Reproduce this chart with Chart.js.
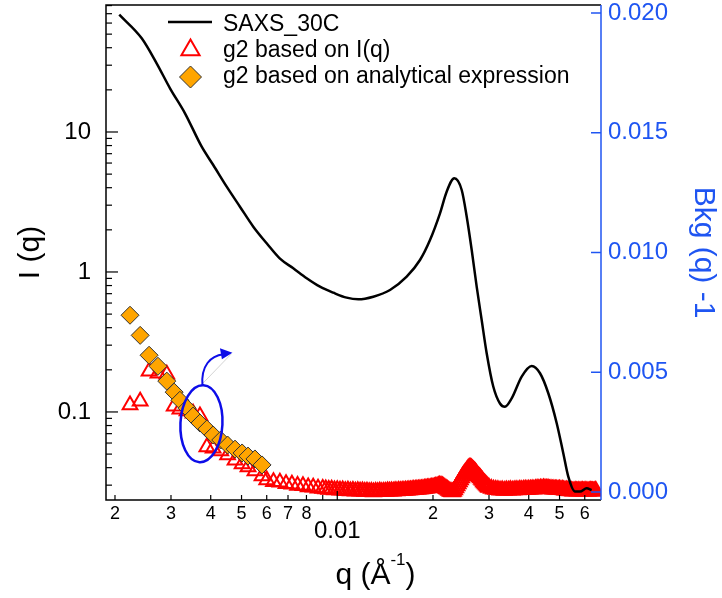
<!DOCTYPE html>
<html>
<head>
<meta charset="utf-8">
<script src="https://cdn.jsdelivr.net/npm/chart.js@4.4.1/dist/chart.umd.min.js"></script>
<style>
  html, body { margin: 0; padding: 0; background: #fff; }
  #wrap { width: 722px; height: 598px; }
</style>
</head>
<body>
<div id="wrap"><canvas id="chart"></canvas></div>
<script>
// SAXS_30C intensity, left log axis
const saxsQ = [0.002063, 0.002427, 0.002704, 0.002979, 0.003320, 0.003747, 0.004074, 0.004490, 0.004943, 0.005444,
  0.005998, 0.006605, 0.007272, 0.008013, 0.008823, 0.009716, 0.010705, 0.011645, 0.01298, 0.01465,
  0.01653, 0.01820, 0.01957, 0.02104, 0.02208, 0.02334, 0.02462, 0.02553, 0.02647, 0.02744,
  0.02845, 0.02950, 0.03094, 0.03248, 0.03367, 0.03535, 0.03801, 0.04088, 0.04341, 0.04609,
  0.04898, 0.05137, 0.05327, 0.05591, 0.05800, 0.06084, 0.06310];
const saxsI = [68.85, 46.7, 30.95, 20.52, 13.60, 7.85, 5.81, 4.07, 2.927, 2.107,
  1.603, 1.245, 1.063, 0.9016, 0.7852, 0.7113, 0.6555, 0.638, 0.666, 0.744,
  0.926, 1.218, 1.693, 2.626, 3.746, 4.670, 3.852, 2.483, 1.436, 0.785,
  0.454, 0.263, 0.152, 0.115, 0.109, 0.125, 0.179, 0.213, 0.189, 0.136,
  0.0831, 0.0507, 0.0345, 0.0270, 0.0270, 0.0285, 0.0277];

// g2 from the analytical expression, right axis
const g2AnQ = [0.00223, 0.00240, 0.00256, 0.00273, 0.00291, 0.00307, 0.00320, 0.00337, 0.00352, 0.00370,
  0.00389, 0.00407, 0.00430, 0.00452, 0.00477, 0.00502, 0.00524, 0.00551, 0.00580];
const g2AnVal = [0.00738, 0.00654, 0.00571, 0.00525, 0.00463, 0.00417, 0.00383, 0.00350, 0.00317, 0.00288,
  0.00263, 0.00238, 0.00217, 0.00196, 0.00179, 0.00163, 0.00150, 0.00138, 0.00113];

// g2 from I(q), right axis
const g2IqQ = [0.00223, 0.00240, 0.00256, 0.00273, 0.00291, 0.00307, 0.00320, 0.00337, 0.00352, 0.00370,
  0.00389, 0.00407, 0.00430, 0.00452, 0.00477, 0.00502, 0.00524, 0.00551, 0.00580,
  0.0060, 0.0063, 0.0066, 0.0069, 0.0072, 0.0075, 0.0078, 0.0081, 0.0084, 0.0087, 0.0090,
  0.0092, 0.0094, 0.0096, 0.0098, 0.0100,
  0.0102, 0.0104, 0.0106, 0.0108, 0.0110, 0.0112, 0.0114, 0.0116, 0.0118, 0.0120,
  0.0122, 0.0124, 0.0126, 0.0128, 0.0130, 0.0132, 0.0134, 0.0136, 0.0138, 0.0140,
  0.0142, 0.0144, 0.0146, 0.0148, 0.0150, 0.0152, 0.0154, 0.0156, 0.0158, 0.0160,
  0.0162, 0.0164, 0.0166, 0.0168, 0.0170, 0.0172, 0.0174, 0.0176, 0.0178, 0.0180,
  0.0182, 0.0184, 0.0186, 0.0188, 0.0190, 0.0192, 0.0194, 0.0196, 0.0198, 0.0200,
  0.0202, 0.0204, 0.0206, 0.0208, 0.0210, 0.0212, 0.0214, 0.0216, 0.0218, 0.0220,
  0.0222, 0.0224, 0.0226, 0.0228, 0.0230, 0.0232, 0.0234, 0.0236, 0.0238, 0.0240,
  0.0242, 0.0244, 0.0246, 0.0248, 0.0250, 0.0252, 0.0254, 0.0256, 0.0258, 0.0260,
  0.0262, 0.0264, 0.0266, 0.0268, 0.0270, 0.0272, 0.0274, 0.0276, 0.0278, 0.0280,
  0.0282, 0.0284, 0.0286, 0.0288, 0.0290, 0.0292, 0.0294, 0.0296, 0.0298, 0.0300,
  0.0305, 0.0310, 0.0315, 0.0320,
  0.0325, 0.0330, 0.0335, 0.0340, 0.0345, 0.0350, 0.0355, 0.0360, 0.0365, 0.0370, 0.0375, 0.0380,
  0.0385, 0.0390, 0.0395, 0.0400, 0.0405, 0.0410, 0.0415, 0.0420,
  0.0425, 0.0430, 0.0435, 0.0440, 0.0445, 0.0450, 0.0455, 0.0460,
  0.0465, 0.0470, 0.0475, 0.0480, 0.0485, 0.0490, 0.0495, 0.0500,
  0.0505, 0.0510, 0.0515, 0.0520, 0.0525, 0.0530,
  0.0535, 0.0540, 0.0545, 0.0550, 0.0555, 0.0560, 0.0565, 0.0570, 0.0575, 0.0580, 0.0585, 0.0590,
  0.0595, 0.0600, 0.0605, 0.0610, 0.0615, 0.0620, 0.0625, 0.0630, 0.0635, 0.0640, 0.0645, 0.0650];
const g2IqVal = [0.00363, 0.00379, 0.00504, 0.00496, 0.00492, 0.00358, 0.00346, 0.00338, 0.00329, 0.00317,
  0.00188, 0.00183, 0.00171, 0.00154, 0.00133, 0.00117, 0.00104, 0.00088, 0.00067,
  0.00050, 0.00043, 0.00041, 0.00034, 0.00032, 0.00027, 0.00026, 0.00021, 0.00020, 0.00016, 0.00015,
  0.00013, 0.00010, 0.00012, 0.00008, 0.00009,
  0.00007, 0.00008, 0.00005, 0.00007, 0.00004, 0.00006, 0.00003, 0.00005, 0.00003, 0.00004,
  0.00002, 0.00003, 0.00001, 0.00002, 0.00000, 0.00002, 0.00001, 0.00003, 0.00001, 0.00002,
  0.00002, 0.00004, 0.00003, 0.00004, 0.00003, 0.00005, 0.00004, 0.00006, 0.00005, 0.00006,
  0.00006, 0.00007, 0.00007, 0.00008, 0.00008, 0.00009, 0.00010, 0.00010, 0.00011, 0.00012,
  0.00013, 0.00013, 0.00014, 0.00015, 0.00016, 0.00017, 0.00017, 0.00018, 0.00019, 0.00020,
  0.00021, 0.00023, 0.00024, 0.00026, 0.00028, 0.00027, 0.00025, 0.00022, 0.00018, 0.00014,
  0.00010, 0.00006, 0.00003, 0.00001, 0.00000, 0.00002, 0.00008, 0.00017, 0.00025, 0.00033,
  0.00042, 0.00050, 0.00058, 0.00067, 0.00073, 0.00079, 0.00085, 0.00092, 0.00098, 0.00102,
  0.00102, 0.00100, 0.00096, 0.00092, 0.00088, 0.00083, 0.00077, 0.00071, 0.00067, 0.00063,
  0.00058, 0.00052, 0.00048, 0.00042, 0.00038, 0.00033, 0.00029, 0.00025, 0.00021, 0.00019,
  0.00015, 0.00012, 0.00010, 0.00009,
  0.00007, 0.00008, 0.00006, 0.00008, 0.00007, 0.00009, 0.00007, 0.00008, 0.00009, 0.00008, 0.00010, 0.00009,
  0.00010, 0.00011, 0.00010, 0.00012, 0.00011, 0.00013, 0.00012, 0.00014,
  0.00015, 0.00014, 0.00016, 0.00015, 0.00017, 0.00016, 0.00015, 0.00016,
  0.00013, 0.00014, 0.00012, 0.00013, 0.00011, 0.00012, 0.00010, 0.00011,
  0.00009, 0.00010, 0.00008, 0.00007, 0.00008, 0.00006,
  0.00005, 0.00004, 0.00005, 0.00003, 0.00004, 0.00005, 0.00004, 0.00003, 0.00005, 0.00004, 0.00004, 0.00005,
  0.00003, 0.00004, 0.00005, 0.00004, 0.00003, 0.00004, 0.00005, 0.00004, 0.00004, 0.00003, 0.00004, 0.00006];

// axis ticks
const qTicks = [0.002, 0.003, 0.004, 0.005, 0.006, 0.007, 0.008, 0.009, 0.01, 0.02, 0.03, 0.04, 0.05, 0.06];
const qTickLabels = ['2', '3', '4', '5', '6', '7', '8', '', ['', '0.01'], '2', '3', '4', '5', '6'];
const iTicks = [0.1, 1, 10];
const iTickLabels = ['0.1', '1', '10'];
const iMinorTicks = [0.03, 0.04, 0.05, 0.06, 0.07, 0.08, 0.09, 0.2, 0.3, 0.4, 0.5, 0.6, 0.7, 0.8, 0.9,
  2, 3, 4, 5, 6, 7, 8, 9, 20, 30, 40, 50, 60, 70, 80];
const bkgTicks = [0, 0.005, 0.01, 0.015, 0.02];
const bkgTickLabels = ['0.000', '0.005', '0.010', '0.015', '0.020'];

// blue ring around the g2 curves, placed in data units
const ringQ = 0.00374;
const ringG2 = 0.00285;

const FONT = '"Liberation Sans", Arial, sans-serif';
const AXIS_BLUE = '#1f55f2';
const RING_BLUE = '#0d0de8';
const RED = '#ff0000';
const ORANGE = '#ffa500';

function pairs(xs, ys) {
  return xs.map((x, i) => ({ x: x, y: ys[i] }));
}

function drawTriangle(ctx, x, y, r) {
  ctx.beginPath();
  for (let k = 0; k < 3; k++) {
    const a = k * 2 * Math.PI / 3;
    const px = x + Math.sin(a) * r, py = y - Math.cos(a) * r;
    if (k === 0) ctx.moveTo(px, py); else ctx.lineTo(px, py);
  }
  ctx.closePath();
}

function drawDiamond(ctx, x, y, r) {
  ctx.beginPath();
  ctx.moveTo(x - r, y);
  ctx.lineTo(x, y - r);
  ctx.lineTo(x + r, y);
  ctx.lineTo(x, y + r);
  ctx.closePath();
}

function seg(ctx, x1, y1, x2, y2) {
  ctx.beginPath();
  ctx.moveTo(x1, y1);
  ctx.lineTo(x2, y2);
  ctx.stroke();
}

// fixed axis boxes, no extra padding from the tick labels
function fixWidth(w) {
  return s => { s.width = w; s.paddingTop = 0; s.paddingBottom = 0; };
}
function fixHeight(h) {
  return s => { s.height = h; s.paddingLeft = 0; s.paddingRight = 0; };
}

// frame, inward ticks, titles, legend and the ring with its arrow
const decorations = {
  id: 'decorations',
  afterDatasetsDraw(chart) {
    const { ctx, chartArea: a, scales } = chart;
    ctx.save();
    ctx.lineWidth = 1.5;
    ctx.strokeStyle = '#000';
    ctx.beginPath();
    ctx.moveTo(a.right, a.top);
    ctx.lineTo(a.left, a.top);
    ctx.lineTo(a.left, a.bottom);
    ctx.lineTo(a.right, a.bottom);
    ctx.stroke();

    ctx.lineWidth = 1.2;
    qTicks.forEach(v => {
      const px = scales.x.getPixelForValue(v);
      seg(ctx, px, a.bottom, px, a.bottom - (v === 0.01 ? 9 : 5));
    });
    iTicks.forEach(v => {
      const py = scales.y.getPixelForValue(v);
      seg(ctx, a.left, py, a.left + 12, py);
    });
    iMinorTicks.forEach(v => {
      const py = scales.y.getPixelForValue(v);
      seg(ctx, a.left, py, a.left + 6, py);
    });

    ctx.strokeStyle = AXIS_BLUE;
    ctx.lineWidth = 1.5;
    seg(ctx, a.right, a.top, a.right, a.bottom);
    bkgTicks.forEach(v => {
      const py = scales.y2.getPixelForValue(v);
      seg(ctx, a.right, py, a.right - 10, py);
    });
    ctx.restore();
  },
  afterDraw(chart) {
    const { ctx, chartArea: a, scales } = chart;
    const midY = (a.top + a.bottom) / 2;
    ctx.save();

    // axis titles
    const base = `30px ${FONT}`, sup = `17px ${FONT}`;
    ctx.fillStyle = '#000';
    ctx.font = base;
    ctx.textAlign = 'center';
    ctx.textBaseline = 'middle';
    ctx.save();
    ctx.translate(31, midY);
    ctx.rotate(-Math.PI / 2);
    ctx.fillText('I (q)', 0, 0);
    ctx.restore();

    ctx.save();
    ctx.fillStyle = AXIS_BLUE;
    ctx.translate(703, midY);
    ctx.rotate(Math.PI / 2);
    ctx.fillText('Bkg (q) -1', 0, 0);
    ctx.restore();

    ctx.textBaseline = 'alphabetic';
    ctx.textAlign = 'left';
    ctx.font = base;
    const w1 = ctx.measureText('q (\u00C5').width;
    const w3 = ctx.measureText(')').width;
    ctx.font = sup;
    const w2 = ctx.measureText('-1').width;
    let tx = (a.left + a.right) / 2 + 22 - (w1 + w2 + w3) / 2;
    const ty = 584;
    ctx.font = base;
    ctx.fillText('q (\u00C5', tx, ty);
    tx += w1;
    ctx.font = sup;
    ctx.fillText('-1', tx, ty - 19);
    tx += w2;
    ctx.font = base;
    ctx.fillText(')', tx, ty);

    // legend
    const lx = a.left + 62, ly = a.top;
    ctx.strokeStyle = '#000';
    ctx.lineWidth = 2.5;
    seg(ctx, lx, ly + 17, lx + 44, ly + 17);
    ctx.font = `23px ${FONT}`;
    ctx.fillStyle = '#000';
    ctx.fillText('SAXS_30C', lx + 55, ly + 26);
    drawTriangle(ctx, lx + 22.5, ly + 45, 10.5);
    ctx.strokeStyle = RED;
    ctx.lineWidth = 2;
    ctx.stroke();
    ctx.fillText('g2 based on I(q)', lx + 55, ly + 52);
    drawDiamond(ctx, lx + 22.5, ly + 72, 11);
    ctx.fillStyle = ORANGE;
    ctx.fill();
    ctx.strokeStyle = '#333';
    ctx.lineWidth = 1;
    ctx.stroke();
    ctx.fillStyle = '#000';
    ctx.fillText('g2 based on analytical expression', lx + 55, ly + 78);

    // ring and arrow
    const cx = scales.x.getPixelForValue(ringQ);
    const cy = scales.y2.getPixelForValue(ringG2);
    ctx.strokeStyle = '#c8c8c8';
    ctx.lineWidth = 0.8;
    seg(ctx, cx + 1.5, cy - 40.5, cx + 29.5, cy - 69.5);
    ctx.strokeStyle = RING_BLUE;
    ctx.lineWidth = 2.5;
    ctx.beginPath();
    ctx.ellipse(cx, cy, 21, 38.5, 0.05, 0, 2 * Math.PI);
    ctx.stroke();
    ctx.lineWidth = 2;
    ctx.beginPath();
    ctx.moveTo(cx + 1, cy - 38.5);
    ctx.bezierCurveTo(cx - 0.5, cy - 58, cx + 9, cy - 68, cx + 22, cy - 69.5);
    ctx.stroke();
    ctx.fillStyle = RING_BLUE;
    ctx.beginPath();
    ctx.moveTo(cx + 31, cy - 71);
    ctx.lineTo(cx + 18.5, cy - 75.5);
    ctx.lineTo(cx + 20.5, cy - 64.5);
    ctx.closePath();
    ctx.fill();

    ctx.restore();
  }
};

new Chart(document.getElementById('chart'), {
  type: 'scatter',
  data: {
    datasets: [
      {
        label: 'SAXS_30C',
        data: pairs(saxsQ, saxsI),
        yAxisID: 'y',
        showLine: true,
        borderColor: '#000',
        borderWidth: 2.5,
        pointRadius: 0,
        cubicInterpolationMode: 'monotone',
        order: 0
      },
      {
        label: 'g2 based on analytical expression',
        data: pairs(g2AnQ, g2AnVal),
        yAxisID: 'y2',
        pointStyle: 'rectRot',
        pointRadius: 9,
        backgroundColor: ORANGE,
        borderColor: '#333',
        borderWidth: 1,
        order: 1
      },
      {
        label: 'g2 based on I(q)',
        data: pairs(g2IqQ, g2IqVal),
        yAxisID: 'y2',
        pointStyle: 'triangle',
        pointRadius: 8.5,
        backgroundColor: 'rgba(0,0,0,0)',
        borderColor: RED,
        borderWidth: 2,
        order: 2
      }
    ]
  },
  options: {
    responsive: true,
    maintainAspectRatio: false,
    animation: false,
    events: [],
    layout: { autoPadding: false, padding: { top: 5, left: 0, right: 0, bottom: 0 } },
    plugins: { legend: { display: false }, tooltip: { enabled: false } },
    scales: {
      x: {
        type: 'logarithmic',
        position: 'bottom',
        bounds: 'data',
        min: 0.001874,
        max: 0.0675,
        grid: { display: false, drawTicks: false },
        border: { display: false },
        afterBuildTicks: s => { s.ticks = qTicks.map(v => ({ value: v })); },
        afterFit: fixHeight(98),
        ticks: {
          autoSkip: false,
          maxRotation: 0,
          minRotation: 0,
          padding: 3,
          color: '#000',
          font: c => (c.tick && c.tick.value === 0.01)
            ? { family: FONT, size: 24, lineHeight: 0.79 }
            : { family: FONT, size: 18 },
          callback: (v, i) => qTickLabels[i]
        }
      },
      y: {
        type: 'logarithmic',
        position: 'left',
        bounds: 'data',
        min: 0.0235,
        max: 80.76,
        grid: { display: false, drawTicks: false },
        border: { display: false },
        afterBuildTicks: s => { s.ticks = iTicks.map(v => ({ value: v })); },
        afterFit: fixWidth(106),
        ticks: {
          padding: 15,
          color: '#000',
          font: { family: FONT, size: 24 },
          callback: (v, i) => iTickLabels[i]
        }
      },
      y2: {
        type: 'linear',
        position: 'right',
        bounds: 'data',
        min: -0.000334,
        max: 0.020334,
        grid: { display: false, drawTicks: false },
        border: { display: false },
        afterBuildTicks: s => { s.ticks = bkgTicks.map(v => ({ value: v })); },
        afterFit: fixWidth(121),
        ticks: {
          padding: 7,
          color: AXIS_BLUE,
          font: { family: FONT, size: 24 },
          callback: (v, i) => bkgTickLabels[i]
        }
      }
    }
  },
  plugins: [decorations]
});
</script>
</body>
</html>
